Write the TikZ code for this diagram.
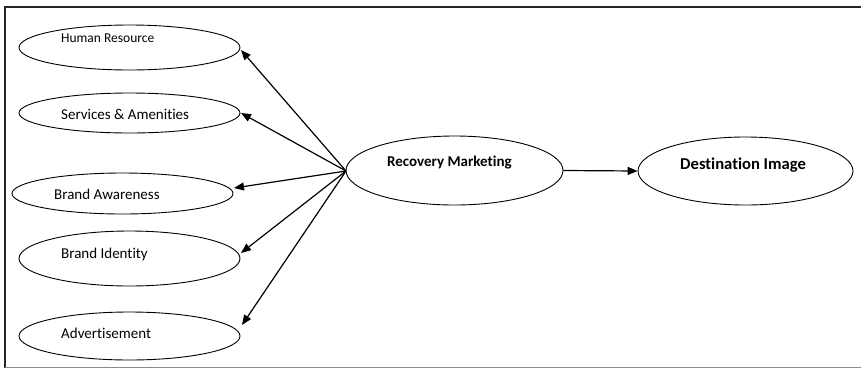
\documentclass[tikz,border=0pt]{standalone}
\usepackage{fontspec}
\setmainfont[Ligatures=NoCommon]{Carlito}
\usetikzlibrary{shapes.geometric,arrows.meta}
\begin{document}
\begin{tikzpicture}[x=1pt,y=-1pt,
  oval/.style={draw,ellipse,line width=0.9pt,inner sep=0pt},
  lbl/.style={anchor=base west,inner sep=0pt,font=\fontsize{15}{17}\selectfont},
  arr/.style={line width=1.2pt,-{Triangle[length=10pt,width=8pt]}}]
\useasboundingbox (0,0) rectangle (861,368);
% frame
\draw[line width=2.2pt,black!85] (861,7) -- (5,7) -- (5,368);
\draw[line width=1pt,black!45] (5,367) -- (861,367);
% ellipses
\node[oval,minimum width=221pt,minimum height=45pt] (hr) at (129.5,47.5) {};
\node[oval,minimum width=221pt,minimum height=40pt] (sa) at (129.5,113) {};
\node[oval,minimum width=221pt,minimum height=41pt] (ba) at (122.5,193.5) {};
\node[oval,minimum width=221pt,minimum height=55pt] (bi) at (129.5,258.5) {};
\node[oval,minimum width=221pt,minimum height=48pt] (ad) at (129.5,336) {};
\node[oval,minimum width=217pt,minimum height=69pt] (rm) at (454.5,170.5) {};
\node[oval,minimum width=215pt,minimum height=68pt] (di) at (745.5,171) {};
% labels
\node[lbl,font=\fontsize{13.5}{15}\selectfont] (hrt) at (61,42.3) {Human Resource};
\node[lbl] (sat) at (61,119.3) {Services \& Amenities};
\node[lbl] (bat) at (54,199) {Brand Awareness};
\node[lbl] (bit) at (61,258.3) {Brand Identity};
\node[lbl] (adt) at (61,338.3) {Advertisement};
\node[lbl,font=\bfseries\fontsize{15}{17}\selectfont] (rmt) at (387,166.7) {Recovery Marketing};
\node[lbl,font=\bfseries\fontsize{16.6}{18}\selectfont] (dit) at (680,169.3) {Destination Image};
% tip coordinates
\coordinate (thr) at (241,50);
\coordinate (tsa) at (241,113);
\coordinate (tba) at (234,188);
\coordinate (tbi) at (241,253);
\coordinate (tad) at (242,325);
\coordinate (src) at (346,171);
% arrows
\draw[arr] (src) -- (thr);
\draw[arr] (src) -- (tsa);
\draw[arr] (src) -- (tba);
\draw[arr] (src) -- (tbi);
\draw[arr] (src) -- (tad);
\draw[arr] (rm.east) -- (di.west);
\end{tikzpicture}
\end{document}
